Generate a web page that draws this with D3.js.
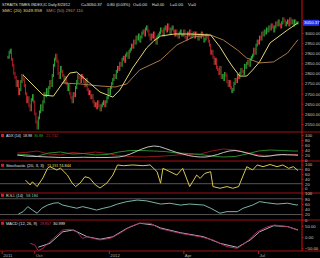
<!DOCTYPE html>
<html><head><meta charset="utf-8">
<script src="https://d3js.org/d3.v7.min.js"></script>
<style>
html,body{margin:0;padding:0;background:#000;}
svg{display:block;}
text{font-family:"Liberation Sans",Arial,sans-serif;}
</style></head><body><svg id="chart" width="320" height="258"></svg>
<script>
// daily closes, STI, ~Aug 30 2011 .. Aug 23 2012
var closes = [
  2880,2905,2915,2870,2840, 2800,2780,2740,2760,2700, 2720,2760,2790,2770,2740, 2700,2660,2680,2640,2620,
  2670,2690,2660,2600,2560, 2530,2580,2610,2640,2620, 2660,2700,2690,2720,2700, 2730,2760,2740,2790,2840,
  2870,2890,2860,2800,2780, 2830,2810,2790,2760,2780, 2750,2720,2740,2700,2680, 2660,2700,2690,2730,2760,
  2790,2780,2760,2790,2780, 2760,2740,2770,2720,2700, 2710,2680,2690,2660,2640, 2650,2630,2660,2640,2620,
  2640,2650,2660,2640,2660, 2680,2720,2700,2730,2750, 2770,2790,2780,2810,2830, 2820,2850,2840,2870,2880,
  2860,2890,2900,2880,2910, 2920,2940,2930,2960,2950, 2980,2970,2990,2960,2980, 3000,3010,2990,3020,3030,
  3010,2990,2970,2990,2980, 3000,2970,2950,2980,2990, 3000,3020,3010,2990,3020, 3030,3010,3040,3020,3000,
  3020,3030,3010,2990,3010, 2990,2980,3000,3010,2990, 2990,3010,2980,2970,3000, 2990,3010,2980,2990,3000,
  2980,3000,2990,2970,2990, 2980,3000,2990,2960,2970, 2990,2980,2960,2940,2900, 2910,2880,2850,2870,2830,
  2820,2800,2830,2780,2790, 2770,2800,2790,2760,2740, 2760,2730,2710,2720,2750, 2770,2760,2790,2780,2800,
  2820,2810,2800,2840,2830, 2850,2860,2840,2870,2880, 2890,2920,2900,2940,2960, 2950,2980,2970,3000,2990,
  3010,3000,3020,3010,3030, 3020,3040,3030,3010,3030, 3050,3040,3060,3040,3030, 3050,3070,3060,3040,3050,
  3060,3040,3070,3050,3060, 3040,3060,3050,3050,3050.37
];
// [bar index, value]
var sma20 = [[13,2792],[30,2693],[39,2688],[53,2802],[59,2807],[70,2753],[79,2708],[90,2683],[96,2718],[102,2777],
  [107,2827],[113,2876],[119,2926],[125,2960],[131,2985],[143,2995],[156,2995],[174,2990],[182,2931],[189,2866],
  [193,2832],[199,2787],[205,2787],[210,2817],[216,2857],[225,2951],[240,3015],[249,3050]];
var sma50 = [[46,2753],[62,2748],[79,2738],[92,2733],[102,2748],[113,2817],[131,2866],[145,2941],[159,2980],
  [174,2990],[185,2965],[197,2916],[205,2876],[216,2852],[228,2857],[240,2901],[249,2967]];
var adx = [[8,20],[15,16],[25,14],[35,12],[45,10],[55,10],[65,11],[75,10],[85,10],[95,12],[100,16],[105,24],
  [110,34],[115,44],[120,52],[125,56],[130,54],[135,46],[140,38],[145,30],[150,24],[155,18],[160,14],[165,12],
  [170,12],[175,16],[180,22],[185,30],[190,36],[195,38],[200,34],[205,28],[210,22],[215,16],[220,14],[225,16],
  [230,20],[235,22],[240,21],[245,20],[249,19]];
var diPlus = [[8,20],[15,22],[25,15],[35,28],[45,32],[55,24],[65,26],[75,20],[85,22],[95,32],[105,38],[115,38],
  [125,36],[135,34],[145,28],[155,26],[165,22],[175,16],[185,12],[195,14],[205,24],[215,36],[225,40],[235,38],
  [245,36],[249,36]];
var diMinus = [[8,28],[15,30],[25,36],[35,24],[45,20],[55,30],[65,26],[75,32],[85,26],[95,18],[105,14],[115,12],
  [125,14],[135,16],[145,20],[155,22],[165,24],[175,36],[185,44],[195,40],[205,30],[215,20],[225,18],[235,20],
  [245,22],[249,22]];
var stochK = [[15,35],[19,15],[21,28],[25,8],[30,44],[34,85],[36,91],[42,77],[45,85],[51,56],[55,23],[58,8],
  [62,23],[66,49],[70,44],[75,15],[79,2],[85,23],[90,56],[94,98],[99,95],[107,98],[116,95],[122,98],[128,70],
  [131,22],[133,84],[139,70],[145,56],[150,84],[156,8],[162,56],[165,42],[169,63],[174,70],[176,8],[182,1],
  [188,8],[193,1],[198,8],[205,91],[210,77],[214,98],[219,91],[225,100],[231,91],[236,98],[241,84],[245,91],[249,75]];
var rsi = [[9,22],[13,31],[17,50],[21,37],[25,25],[29,44],[34,56],[39,63],[43,65],[47,56],[53,50],[59,44],
  [64,50],[70,44],[76,37],[82,44],[88,50],[94,60],[102,69],[111,75],[119,72],[131,60],[139,63],[148,56],
  [156,60],[168,56],[174,44],[182,25],[188,31],[197,31],[202,44],[210,56],[216,69],[222,65],[231,60],
  [240,63],[248,56],[249,58]];
var macd = [[19,-28],[23,-35],[26,-61],[30,-50],[39,-6],[47,31],[53,34],[59,23],[64,-6],[68,1],[73,-6],[79,-13],
  [88,-6],[96,16],[105,46],[113,61],[122,61],[131,36],[148,16],[165,1],[176,-13],[188,-43],[197,-50],[205,-21],
  [214,23],[223,46],[229,53],[240,46],[249,30]];
var macdSignal = [[26,-45],[36,-28],[47,23],[56,31],[68,1],[79,-10],[90,1],[102,38],[113,61],[125,53],[131,40],
  [148,19],[168,1],[182,-28],[197,-46],[208,-13],[216,23],[228,50],[240,46],[249,31]];

var priceTicks = [3000,2950,2900,2850,2800,2750,2700,2650,2600,2550];
var pctTicks = [100,80,60,40,20,0];
var macdTicks = [50,0,-50];
var dateLabels = ["2011","Oct","2012","Apr","Jul"];
var dateIdx = [-5,23,87,151,215];

var svg = d3.select("#chart");
var axisX = 302;
svg.append("rect").attr("width",320).attr("height",258).attr("fill","#000");

var x = d3.scaleLinear().domain([0, closes.length - 1]).range([8, 298]);
var yPrice = d3.scaleLinear().domain([2550, 3000]).range([124, 33]);
var yAdx = d3.scaleLinear().domain([0, 100]).range([160, 135]);
var yStoch = d3.scaleLinear().domain([0, 100]).range([188.5, 164.5]);
var yRsi = d3.scaleLinear().domain([0, 100]).range([219.8, 193.5]);
var yMacd = d3.scaleLinear().domain([-50, 50]).range([248.3, 225.7]);

// clip for price panel
svg.append("clipPath").attr("id","pclip").append("rect").attr("x",0).attr("y",0).attr("width",axisX).attr("height",131);

// gray guide lines
[[yStoch,80],[yStoch,20],[yRsi,80],[yRsi,20]].forEach(function(g){
  svg.append("line").attr("x1",0).attr("x2",axisX).attr("y1",g[0](g[1])).attr("y2",g[0](g[1]))
    .attr("stroke","#6a6a6a").attr("stroke-width",0.8);
});

// candles
var bars = svg.append("g").attr("clip-path","url(#pclip)");
bars.selectAll("rect").data(closes).enter().append("rect")
  .attr("x", function(d,i){ return x(i) - 0.5; })
  .attr("width", 1)
  .attr("y", function(d,i){ var o = i ? closes[i-1] : d; return Math.min(yPrice(o), yPrice(d)) - 1.5; })
  .attr("height", function(d,i){ var o = i ? closes[i-1] : d; return Math.abs(yPrice(o) - yPrice(d)) + 3; })
  .attr("fill", function(d,i){ var o = i ? closes[i-1] : d; return d >= o ? "#2faa3a" : "#b8202a"; });

function drawLine(data, y, color, w) {
  svg.append("path").datum(data)
    .attr("d", d3.line().x(function(d){ return x(d[0]); }).y(function(d){ return y(d[1]); }))
    .attr("fill","none").attr("stroke",color).attr("stroke-width",w || 1);
}
drawLine(sma50, yPrice, "#a8784a", 1);
drawLine(sma20, yPrice, "#e2d878", 1);
drawLine(diMinus, yAdx, "#a01820", 0.9);
drawLine(diPlus, yAdx, "#2a9a30", 0.9);
drawLine(adx, yAdx, "#d8d8d8", 0.9);
drawLine(stochK, yStoch, "#d8c850", 1);
drawLine(rsi, yRsi, "#88c8b8", 0.9);
drawLine(macdSignal, yMacd, "#c8c8c8", 0.9);
drawLine(macd, yMacd, "#b02868", 0.9);

// panel separators
[132, 161, 193, 220, 251].forEach(function(yy){
  svg.append("line").attr("x1",0).attr("x2",320).attr("y1",yy).attr("y2",yy)
    .attr("stroke","#a01010").attr("stroke-width",1);
});
svg.append("line").attr("x1",axisX).attr("x2",axisX).attr("y1",0).attr("y2",251)
  .attr("stroke","#d01010").attr("stroke-width",1);

// right axes
function rightAxis(scale, ticks, fmt) {
  var g = svg.append("g").attr("transform","translate(" + axisX + ",0)")
    .call(d3.axisRight(scale).tickValues(ticks).tickSize(1.5).tickPadding(1.5).tickFormat(fmt));
  g.select(".domain").remove();
  g.selectAll("line").attr("stroke","#d01010");
  g.selectAll("text").attr("fill","#c8c8c8").attr("font-size","4.3px").attr("font-family","Liberation Sans");
}
rightAxis(yPrice, priceTicks, d3.format(".2f"));
rightAxis(yAdx, pctTicks, d3.format("d"));
rightAxis(yStoch, pctTicks, d3.format("d"));
rightAxis(yRsi, pctTicks, d3.format("d"));
rightAxis(yMacd, macdTicks, d3.format(".2f"));

// last price flag
svg.append("rect").attr("x",axisX + 1).attr("y",yPrice(3050.37) - 3).attr("width",16).attr("height",6).attr("fill","#2a32e8");
svg.append("text").attr("x",axisX + 2).attr("y",yPrice(3050.37) + 1.6).attr("fill","#fff")
  .attr("font-size","4.3px").text("3050.37");

// date axis
dateLabels.forEach(function(lab, k){
  var xx = x(dateIdx[k]);
  svg.append("line").attr("x1",xx).attr("x2",xx).attr("y1",251).attr("y2",254).attr("stroke","#d01010");
  svg.append("text").attr("x",xx + 1).attr("y",256.5).attr("fill","#b0b0b0").attr("font-size","4.3px").text(lab);
});

// headers: [x, text, colour, width]
function header(y, parts) {
  parts.forEach(function(p){
    svg.append("text").attr("x",p[0]).attr("y",y).attr("fill",p[2]).attr("font-size","4.4px")
      .attr("textLength",p[3]).attr("lengthAdjust","spacingAndGlyphs").text(p[1]);
  });
}
var wh = "#e0e0e0";
header(5.5, [[2,"STRAITS TIMES INDEX,IC Daily 8/23/12",wh,68],[81,"C=3050.37",wh,21],
  [107,"0.80 (0.03%)",wh,23],[133,"O=0.00",wh,14],[152,"H=0.00",wh,12],[170,"L=0.00",wh,13],[188,"V=0",wh,8]]);
header(12, [[2,"SMC (20) 3049.958","#e2d878",40],[46,"SMC (50) 2967.110","#c08a50",37]]);
[[137.2,"ADX (14)",15,[[23,"18.98",wh,9],[34,"35.88","#30b030",9],[46,"21.742","#c02020",12]]],
 [167,"Stochastic (20, 3, 3)",38,[[47,"73.333","#d8c850",11],[59,"74.844","#e8e0a0",12]]],
 [197,"R.S.I. (14)",17,[[26,"58.184","#88c8b8",12]]],
 [225,"MACD (12, 26, 9)",31,[[40,"29.857","#c03070",11],[53,"30.999",wh,12]]]
].forEach(function(h){
  svg.append("rect").attr("x",1).attr("y",h[0] - 3.2).attr("width",3).attr("height",3).attr("fill","#d02020");
  header(h[0], [[6, h[1], wh, h[2]]].concat(h[3]));
});
</script></body></html>
